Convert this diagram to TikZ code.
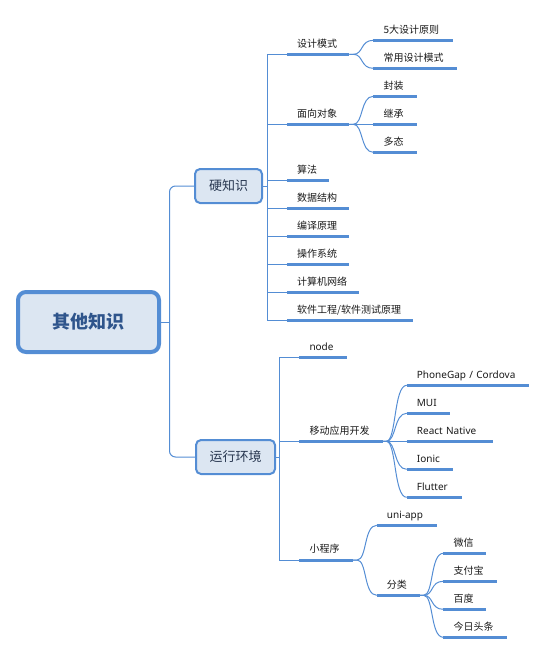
\documentclass[tikz,border=0pt]{standalone}
\usepackage{fontspec}
\setmainfont{Noto Sans}
\newfontfamily\cjk{Noto Sans CJK SC}
\newfontfamily\lat{Noto Sans}
\definecolor{linec}{RGB}{84,141,212}
\definecolor{boxfill}{RGB}{220,230,242}
\definecolor{roottext}{RGB}{47,85,140}
\definecolor{boxtext}{RGB}{40,55,80}
\definecolor{leaftext}{RGB}{25,25,25}
\tikzset{
  rootbox/.style={draw=linec, fill=boxfill, line width=4pt, rounded corners=8pt,
    minimum width=141pt, minimum height=60pt, inner sep=0pt,
    text=roottext, font=\cjk\bfseries\fontsize{18}{20}\selectfont,
    text height=15.8pt, text depth=2.2pt},
  subbox/.style={draw=linec, fill=boxfill, line width=2pt, rounded corners=5pt,
    minimum height=34pt, inner sep=0pt,
    text=boxtext, font=\cjk\fontsize{13}{15}\selectfont,
    text height=11.4pt, text depth=1.6pt},
  uline/.style={draw=linec, line width=3pt},
  leaf/.style={anchor=south west, inner xsep=10pt, inner ysep=5pt,
    text height=8pt, text depth=2pt, align=left, text=leaftext,
    font=\cjk\fontsize{10}{12}\selectfont,
    append after command={(\tikzlastnode.south west) edge[uline] (\tikzlastnode.south east)}},
  latleaf/.style={leaf, font=\lat\fontsize{10}{12}\selectfont},
  conn/.style={draw=linec, line width=1pt},
}
\begin{document}
\begin{tikzpicture}[x=1pt,y=-1pt]
\useasboundingbox (0,0) rectangle (546,654);

% main boxes
\node[rootbox] (root) at (88.5,322) {其他知识};
\node[subbox, minimum width=67pt] (hard) at (228.5,186) {硬知识};
\node[subbox, minimum width=79pt] (run) at (235.5,457) {运行环境};

\coordinate (rj) at (169.5,322);
\draw[conn] (root.east) -- (rj);
\draw[conn, rounded corners=6pt] (hard.west) -| (rj) |- (run.west);

% hard knowledge branch
\coordinate (hj) at (267.5,186);
\draw[conn] (hard.east) -- (hj);
\node[leaf, text width=42pt] (sjms) at (287,54.3) {设计模式};
\node[leaf, text width=42pt] (mxdx) at (287,124.3) {面向对象};
\node[leaf, text width=22pt] (sf) at (287,180.3) {算法};
\node[leaf, text width=42pt] (sjjg) at (287,208.3) {数据结构};
\node[leaf, text width=42pt] (bylj) at (287,236.3) {编译原理};
\node[leaf, text width=42pt] (czxt) at (287,264.3) {操作系统};
\node[leaf, text width=52pt] (jsjwl) at (287,292.3) {计算机网络};
\node[leaf, text width=106pt] (rjgc) at (287,320.3) {\mbox{软件工程/软件测试原理}};
\foreach \c in {sjms,mxdx,sf,sjjg,bylj,czxt,jsjwl,rjgc}
  \draw[conn] (hj) |- (\c.south west);

% design patterns
\node[leaf, text width=59.4pt] (wdyz) at (373.3,40.3) {5大设计原则};
\node[leaf, text width=63.4pt] (cysj) at (373.3,68.3) {常用设计模式};
\foreach \c in {wdyz,cysj}
  \draw[conn] (sjms.south east) -- ++(4,0) .. controls +(10,0) and +(-13,0) .. (\c.south west);

% OOP
\node[leaf, text width=23.4pt] (fz) at (373.3,96.3) {封装};
\node[leaf, text width=23.4pt] (jc) at (373.3,124.3) {继承};
\node[leaf, text width=23.4pt] (dt) at (373.3,152.3) {多态};
\foreach \c in {fz,jc,dt}
  \draw[conn] (mxdx.south east) -- ++(4,0) .. controls +(10,0) and +(-13,0) .. (\c.south west);

% runtime branch
\coordinate (rnj) at (279.5,457);
\draw[conn] (run.east) -- (rnj);
\node[latleaf, text width=27.4pt] (node) at (299.3,357.3) {node};
\node[leaf, text width=63.4pt] (ydyy) at (299.3,441.3) {移动应用开发};
\node[leaf, text width=33.4pt] (xcx) at (299.3,560) {小程序};
\foreach \c in {node,ydyy,xcx}
  \draw[conn] (rnj) |- (\c.south west);

% mobile
\node[latleaf, text width=101.6pt] (pg) at (406.7,385.3) {\mbox{PhoneGap / Cordova}};
\node[latleaf, text width=22.6pt] (mui) at (406.7,413.3) {MUI};
\node[latleaf, text width=66pt] (rn) at (406.7,441.3) {\mbox{React Native}};
\node[latleaf, text width=26pt] (ionic) at (406.7,469.3) {Ionic};
\node[latleaf, text width=35pt] (flutter) at (406.7,497.3) {Flutter};
\foreach \c in {pg,mui,rn,ionic,flutter}
  \draw[conn] (ydyy.south east) -- ++(3.3,0) .. controls +(10,0) and +(-13,0) .. (\c.south west);

% mini programs
\node[latleaf, text width=40pt] (uni) at (376.7,525.3) {uni-app};
\node[leaf, text width=22.6pt] (fl) at (376.7,595.3) {分类};
\foreach \c in {uni,fl}
  \draw[conn] (xcx.south east) -- ++(4,0) .. controls +(10,0) and +(-13,0) .. (\c.south west);

\node[leaf, text width=22.7pt] (wx) at (443.3,553.3) {微信};
\node[leaf, text width=33.4pt] (zfb) at (443.3,581.3) {支付宝};
\node[leaf, text width=22.7pt] (bd) at (443.3,609.3) {百度};
\node[leaf, text width=43.4pt] (jrtt) at (443.3,637.3) {今日头条};
\foreach \c in {wx,zfb,bd,jrtt}
  \draw[conn] (fl.south east) -- ++(4,0) .. controls +(10,0) and +(-13,0) .. (\c.south west);
\end{tikzpicture}
\end{document}
